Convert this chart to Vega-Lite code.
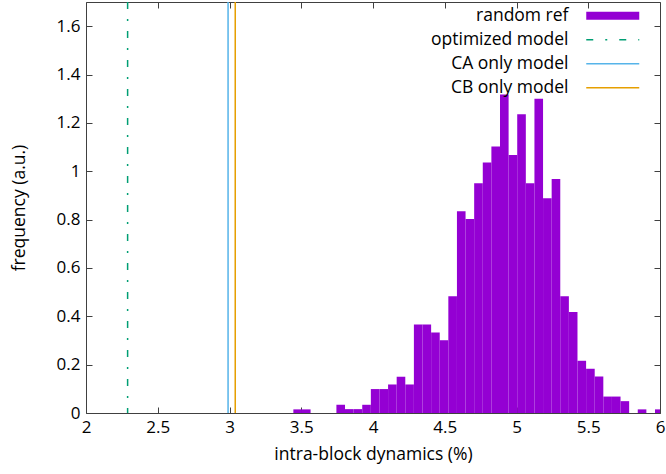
{
  "$schema": "https://vega.github.io/schema/vega-lite/v6.json",
  "width": 574,
  "height": 411,
  "autosize": {"type": "none"},
  "padding": {"left": 86, "top": 2, "right": 6, "bottom": 61},
  "background": "white",
  "config": {
    "view": {"stroke": null},
    "axis": {
      "domainColor": "#404040",
      "tickColor": "#404040",
      "grid": false,
      "tickSize": -6,
      "labelFont": "Open Sans",
      "labelFontSize": 17,
      "labelColor": "#000000",
      "titleFont": "Open Sans",
      "titleFontSize": 17.5,
      "titleFontWeight": "normal",
      "titleColor": "#000000"
    },
    "legend": {
      "labelFont": "Open Sans",
      "labelFontSize": 17.5,
      "labelColor": "#000000"
    }
  },
  "datasets": {
    "hist": [
      {"x0": 3.445, "x1": 3.505, "freq": 0.015, "series": "random ref"},
      {"x0": 3.505, "x1": 3.565, "freq": 0.015, "series": "random ref"},
      {"x0": 3.745, "x1": 3.805, "freq": 0.034, "series": "random ref"},
      {"x0": 3.805, "x1": 3.865, "freq": 0.016, "series": "random ref"},
      {"x0": 3.865, "x1": 3.925, "freq": 0.016, "series": "random ref"},
      {"x0": 3.925, "x1": 3.985, "freq": 0.034, "series": "random ref"},
      {"x0": 3.985, "x1": 4.045, "freq": 0.099, "series": "random ref"},
      {"x0": 4.045, "x1": 4.105, "freq": 0.099, "series": "random ref"},
      {"x0": 4.105, "x1": 4.165, "freq": 0.118, "series": "random ref"},
      {"x0": 4.165, "x1": 4.225, "freq": 0.150, "series": "random ref"},
      {"x0": 4.225, "x1": 4.285, "freq": 0.118, "series": "random ref"},
      {"x0": 4.285, "x1": 4.345, "freq": 0.366, "series": "random ref"},
      {"x0": 4.345, "x1": 4.405, "freq": 0.366, "series": "random ref"},
      {"x0": 4.405, "x1": 4.465, "freq": 0.333, "series": "random ref"},
      {"x0": 4.465, "x1": 4.525, "freq": 0.301, "series": "random ref"},
      {"x0": 4.525, "x1": 4.585, "freq": 0.483, "series": "random ref"},
      {"x0": 4.585, "x1": 4.645, "freq": 0.835, "series": "random ref"},
      {"x0": 4.645, "x1": 4.705, "freq": 0.802, "series": "random ref"},
      {"x0": 4.705, "x1": 4.765, "freq": 0.950, "series": "random ref"},
      {"x0": 4.765, "x1": 4.825, "freq": 1.036, "series": "random ref"},
      {"x0": 4.825, "x1": 4.885, "freq": 1.102, "series": "random ref"},
      {"x0": 4.885, "x1": 4.945, "freq": 1.317, "series": "random ref"},
      {"x0": 4.945, "x1": 5.005, "freq": 1.067, "series": "random ref"},
      {"x0": 5.005, "x1": 5.065, "freq": 1.236, "series": "random ref"},
      {"x0": 5.065, "x1": 5.125, "freq": 0.950, "series": "random ref"},
      {"x0": 5.125, "x1": 5.185, "freq": 1.300, "series": "random ref"},
      {"x0": 5.185, "x1": 5.245, "freq": 0.888, "series": "random ref"},
      {"x0": 5.245, "x1": 5.305, "freq": 0.968, "series": "random ref"},
      {"x0": 5.305, "x1": 5.365, "freq": 0.483, "series": "random ref"},
      {"x0": 5.365, "x1": 5.425, "freq": 0.418, "series": "random ref"},
      {"x0": 5.425, "x1": 5.485, "freq": 0.216, "series": "random ref"},
      {"x0": 5.485, "x1": 5.545, "freq": 0.183, "series": "random ref"},
      {"x0": 5.545, "x1": 5.605, "freq": 0.151, "series": "random ref"},
      {"x0": 5.605, "x1": 5.665, "freq": 0.068, "series": "random ref"},
      {"x0": 5.665, "x1": 5.725, "freq": 0.068, "series": "random ref"},
      {"x0": 5.725, "x1": 5.785, "freq": 0.049, "series": "random ref"},
      {"x0": 5.845, "x1": 5.905, "freq": 0.015, "series": "random ref"},
      {"x0": 5.965, "x1": 6.025, "freq": 0.015, "series": "random ref"}
    ],
    "lines": [
      {"name": "optimized model", "x": 2.29},
      {"name": "CA only model", "x": 2.99},
      {"name": "CB only model", "x": 3.04}
    ]
  },
  "resolve": {"axis": {"x": "independent", "y": "independent"}},
  "layer": [
    {
      "data": {"name": "hist"},
      "mark": {"type": "bar", "clip": true, "strokeWidth": 0, "orient": "vertical"},
      "encoding": {
        "x": {
          "field": "x0", "type": "quantitative",
          "scale": {"domain": [2, 6], "nice": false, "zero": false, "padding": 0},
          "axis": {
            "orient": "bottom",
            "values": [2, 2.5, 3, 3.5, 4, 4.5, 5, 5.5, 6],
            "format": "~g",
            "tickSize": -6,
            "labelPadding": 12,
            "labelFlush": false,
            "title": "intra-block dynamics (%)",
            "titlePadding": 10
          }
        },
        "x2": {"field": "x1"},
        "y": {
          "field": "freq", "type": "quantitative",
          "scale": {"domain": [0, 1.7], "nice": false, "padding": 0},
          "axis": {
            "orient": "left",
            "values": [0, 0.2, 0.4, 0.6, 0.8, 1, 1.2, 1.4, 1.6],
            "format": "~g",
            "tickSize": -6,
            "labelPadding": 12,
            "labelFlush": false,
            "title": "frequency (a.u.)",
            "titlePadding": 28
          }
        },
        "y2": {"datum": 0},
        "color": {
          "field": "series", "type": "nominal",
          "scale": {
            "domain": ["random ref", "optimized model", "CA only model", "CB only model"],
            "range": ["#9400D3", "#009E73", "#56B4E9", "#E69F00"]
          },
          "legend": {
            "title": null,
            "orient": "none",
            "legendX": 518,
            "legendY": 5,
            "padding": 0,
            "symbolSize": 100,
            "rowPadding": 5,
            "labelAlign": "right",
            "labelOffset": -53,
            "labelLimit": 400,
            "encode": {
              "symbols": {
                "update": {
                  "shape": {"signal": "datum.value === 'random ref' ? 'M-5.3,-0.8H5.3V0.8H-5.3Z' : 'M-5.3,0H5.3'"},
                  "fill": {"signal": "datum.value === 'random ref' ? '#9400D3' : 'transparent'"},
                  "stroke": {"signal": "datum.value === 'random ref' ? 'transparent' : scale('color', datum.value)"},
                  "strokeWidth": {"signal": "datum.value === 'random ref' ? 0 : 1.5"},
                  "strokeDash": {"signal": "datum.value === 'optimized model' ? [7, 12, 2, 12] : [1, 0]"},
                  "opacity": {"value": 1}
                }
              }
            }
          }
        }
      }
    },
    {
      "data": {"name": "lines"},
      "mark": {"type": "rule", "strokeWidth": 1.5},
      "encoding": {
        "x": {"field": "x", "type": "quantitative", "axis": null},
        "color": {"field": "name", "type": "nominal"},
        "strokeDash": {
          "field": "name", "type": "nominal",
          "scale": {
            "domain": ["optimized model", "CA only model", "CB only model"],
            "range": [[7, 10, 2, 10], [1, 0], [1, 0]]
          },
          "legend": null
        }
      }
    },
    {
      "data": {"name": "hist"},
      "mark": {"type": "point", "opacity": 0},
      "encoding": {
        "x": {
          "field": "x0", "type": "quantitative",
          "axis": {"orient": "top", "values": [2, 2.5, 3, 3.5, 4, 4.5, 5, 5.5, 6], "tickSize": -6, "labels": false, "title": null}
        },
        "y": {
          "field": "freq", "type": "quantitative",
          "axis": {"orient": "right", "values": [0, 0.2, 0.4, 0.6, 0.8, 1, 1.2, 1.4, 1.6], "tickSize": -6, "labels": false, "title": null}
        }
      }
    }
  ]
}
